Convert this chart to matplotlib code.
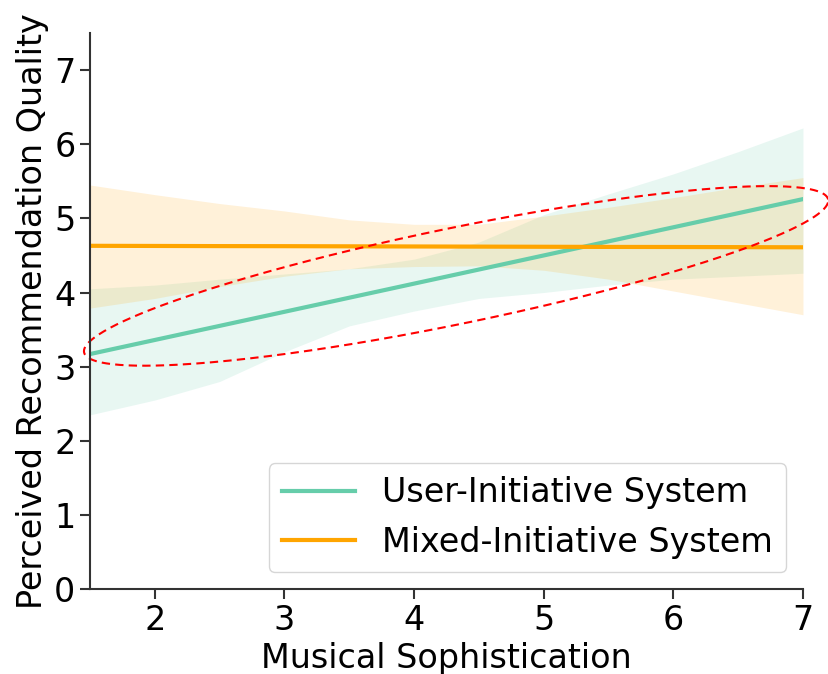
import numpy as np
import matplotlib.pyplot as plt

# Werte
x_grid = [1.5, 2.0, 2.5, 3.0, 3.5, 4.0, 4.5, 5.0, 5.5, 6.0, 6.5, 7.0]

user_mean = [3.17, 3.36, 3.55, 3.74, 3.93, 4.12, 4.31, 4.50, 4.69, 4.88, 5.07, 5.26]
user_lo = [2.35, 2.55, 2.80, 3.20, 3.55, 3.75, 3.92, 4.00, 4.10, 4.18, 4.22, 4.26]
user_hi = [4.05, 4.10, 4.18, 4.25, 4.32, 4.45, 4.68, 5.05, 5.33, 5.60, 5.90, 6.22]

mixed_mean = [4.630, 4.628, 4.626, 4.625, 4.623, 4.621, 4.619, 4.617, 4.615, 4.614, 4.612, 4.610]
mixed_lo = [3.79, 3.92, 4.08, 4.22, 4.32, 4.35, 4.36, 4.30, 4.18, 4.02, 3.86, 3.70]
mixed_hi = [5.45, 5.32, 5.20, 5.10, 4.98, 4.92, 4.92, 5.03, 5.15, 5.28, 5.42, 5.55]

labels = ["User-Initiative System", "Mixed-Initiative System"]
farbe_user = "#66cdaa"
farbe_mixed = "orange"

fig = plt.figure(figsize=(8.29, 6.74), dpi=100)
ax = fig.add_axes([0.1086, 0.126, 0.86, 0.825])

ax.fill_between(x_grid, user_lo, user_hi, color=farbe_user, alpha=0.15, linewidth=0)
ax.fill_between(x_grid, mixed_lo, mixed_hi, color=farbe_mixed, alpha=0.15, linewidth=0)
ax.plot(x_grid, user_mean, color=farbe_user, lw=3, label=labels[0])
ax.plot(x_grid, mixed_mean, color=farbe_mixed, lw=3, label=labels[1])

# rote gestrichelte Ellipse
t = np.linspace(0, 2 * np.pi, 400)
cx, cy = 4.324, 4.224
ux, uy = 2.870, 1.032
vx, vy = -0.0745, 0.634
ex = cx + ux * np.cos(t) + vx * np.sin(t)
ey = cy + uy * np.cos(t) + vy * np.sin(t)
ax.plot(ex, ey, color="red", ls=(0, (4, 2.5)), lw=1.5, clip_on=False)

ax.set_xlim(1.5, 7)
ax.set_ylim(0, 7.5)
ax.set_xticks([2, 3, 4, 5, 6, 7])
ax.set_yticks(range(0, 8))
ax.tick_params(labelsize=24, width=1.5, length=7, color="#333333")
for s in ["top", "right"]:
    ax.spines[s].set_visible(False)
for s in ["left", "bottom"]:
    ax.spines[s].set_linewidth(1.5)
    ax.spines[s].set_color("#333333")

ax.set_xlabel("Musical Sophistication", fontsize=24, labelpad=4)
ax.set_ylabel("Perceived Recommendation Quality", fontsize=24, labelpad=4)
ax.legend(loc="lower right", fontsize=24, handlelength=2.2)

plt.savefig("out.png")
